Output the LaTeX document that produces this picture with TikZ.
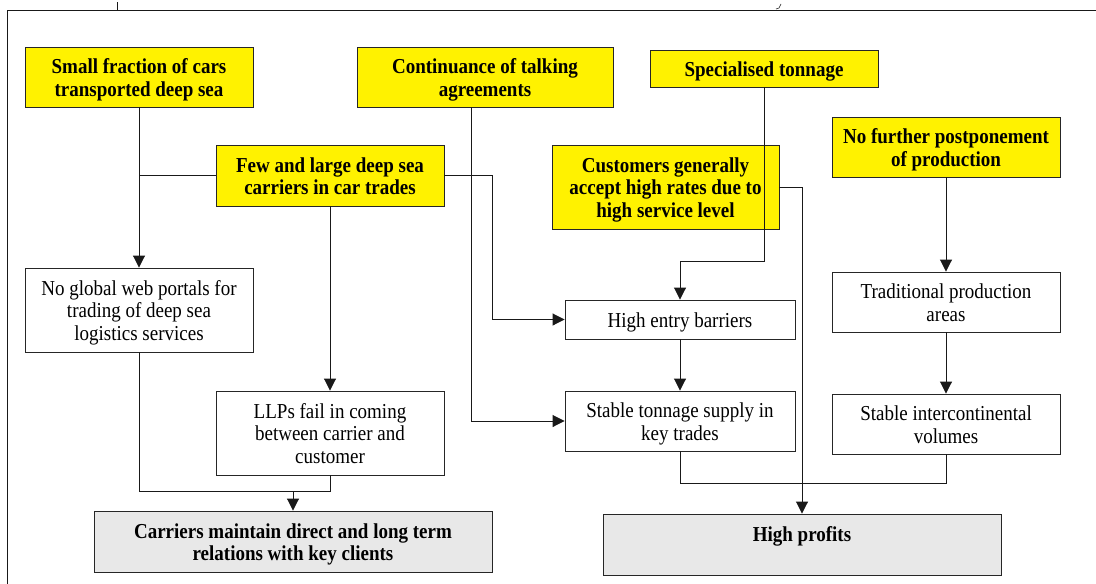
\documentclass[tikz,border=0pt]{standalone}
\usepackage{fontspec}
\setmainfont{Liberation Serif}
\usetikzlibrary{arrows.meta}
\newcommand{\tx}[1]{\raisebox{-3.5pt}[\height][\depth]{\scalebox{1}[1.12]{\fontsize{19}{20}\selectfont\begin{tabular}{@{}c@{}}#1\end{tabular}}}}
\begin{document}
\begin{tikzpicture}[x=1pt,y=-1pt,
  box/.style={draw=black!85, line width=0.9pt, inner sep=0pt, align=center},
  ybox/.style={box, fill=yellow, font=\bfseries},
  wbox/.style={box, fill=white},
  gbox/.style={box, fill=black!9, font=\bfseries},
  con/.style={line width=0.9pt, draw=black!90},
  arr/.style={con, -{Triangle[length=12pt,width=12pt]}}]
\useasboundingbox (0,0) rectangle (1096,584);
% frame
\draw[con] (7,584) -- (7,10) -- (1096,10);
\draw[con] (117,2) -- (117,10);
\draw[con, line width=0.6pt] (781,4) -- (779,8) -- (776,9);
% nodes
\node[ybox, minimum width=228, minimum height=60] (sf) at (139,77) {\tx{Small fraction of cars\\transported deep sea}};
\node[ybox, minimum width=256, minimum height=60] (ct) at (485,77) {\tx{Continuance of talking\\agreements}};
\node[ybox, minimum width=228, minimum height=37] (st) at (764,68.5) {\tx{Specialised tonnage}};
\node[ybox, minimum width=228, minimum height=61] (fl) at (330,175.5) {\tx{Few and large deep sea\\carriers in car trades}};
\node[ybox, minimum width=227, minimum height=84] (cu) at (665.5,187) {\tx{Customers generally\\accept high rates due to\\high service level}};
\node[ybox, minimum width=228, minimum height=60] (nf) at (946,147) {\tx{No further postponement\\of production}};
\node[wbox, minimum width=228, minimum height=84] (ng) at (139,310) {\tx{No global web portals for\\trading of deep sea\\logistics services}};
\node[wbox, minimum width=228, minimum height=84] (llp) at (330,433) {\tx{LLPs fail in coming\\between carrier and\\customer}};
\node[gbox, minimum width=398, minimum height=61] (cm) at (293,541.5) {\tx{Carriers maintain direct and long term\\relations with key clients}};
\node[wbox, minimum width=230, minimum height=39] (heb) at (680,319.5) {\tx{High entry barriers}};
\node[wbox, minimum width=230, minimum height=60] (sts) at (680,421) {\tx{Stable tonnage supply in\\key trades}};
\node[wbox, minimum width=228, minimum height=60] (tp) at (946,302) {\tx{Traditional production\\areas}};
\node[wbox, minimum width=228, minimum height=60] (si) at (946,424) {\tx{Stable intercontinental\\volumes}};
\node[gbox, minimum width=398, minimum height=61] (hp) at (802,544.5) {\tx{High profits\\~}};
% connectors
\draw[arr] (sf.south) -- (ng.north);
\draw[con] (fl.west) -- (sf.south |- fl.west);
\draw[arr] (fl.east) -- ++(48,0) |- (heb.west);
\draw[arr] ([xshift=-14pt]ct.south) |- (sts.west);
\draw[arr] (fl.south) -- (llp.north);
\coordinate (j1) at (293,491);
\draw[con] (ng.south) |- (j1);
\draw[con] (llp.south) |- (j1);
\draw[arr] (j1) -- (cm.north);
\coordinate (k1) at (764,261);
\draw[arr] (st.south) -- (k1) -| (heb.north);
\draw[arr] (cu.east) -| (hp.north);
\draw[arr] (heb.south) -- (sts.north);
\coordinate (j2) at (802,483);
\draw[con] (sts.south) |- (j2);
\draw[con] (si.south) |- (j2);
\draw[arr] (nf.south) -- (tp.north);
\draw[arr] (tp.south) -- (si.north);
\end{tikzpicture}
\end{document}
